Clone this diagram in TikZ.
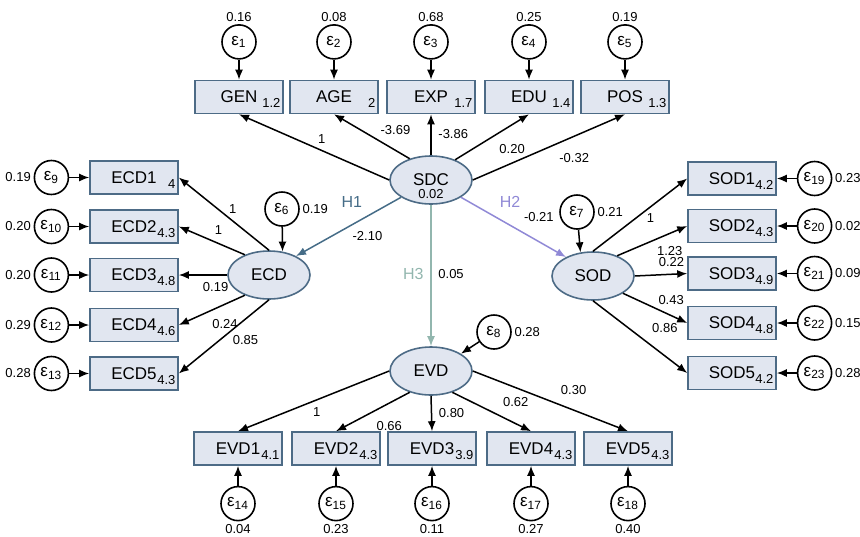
\documentclass[tikz,border=0pt]{standalone}
\usepackage{fontspec}
\setmainfont{Liberation Sans}
\usetikzlibrary{arrows.meta, positioning, shapes}

\definecolor{boxfill}{RGB}{225,230,240}
\definecolor{boxline}{RGB}{77,107,134}
\definecolor{hone}{RGB}{69,108,135}
\definecolor{htwo}{RGB}{144,137,214}
\definecolor{hthree}{RGB}{146,182,174}

\begin{document}
\begin{tikzpicture}[x=0.5pt, y=-0.5pt, node distance=10pt, >={Latex[length=5pt,width=4pt]},
    indicator/.style={draw=boxline, line width=0.8pt, fill=boxfill, rectangle, minimum width=44pt, minimum height=16.5pt, inner sep=0pt, font=\fontsize{8.5}{10}\selectfont},
    factor/.style={draw=boxline, line width=0.8pt, fill=boxfill, ellipse, minimum width=41pt, minimum height=24pt, inner sep=0pt, font=\fontsize{8.5}{10}\selectfont},
    errterm/.style={draw, circle, line width=0.8pt, minimum size=17pt, inner sep=0pt, font=\fontsize{8.5}{10}\selectfont},
    icept/.style={anchor=south east, inner xsep=1.5pt, inner ysep=3pt},
    coef/.style={font=\fontsize{6.5}{7}\selectfont, text=black},
    hyp/.style={font=\fontsize{8}{9}\selectfont},
    every label/.style={coef, inner sep=1.2pt},
    loading/.style={->, line width=0.75pt}]
        \useasboundingbox (0,0) rectangle (860,536);

        % Latent variables
        \node (sdc) [factor, label={[anchor=south, inner sep=3pt]south:0.02}] at (431,180) {SDC};
        \node (ecd) [factor] at (269,275) {ECD};
        \node (sod) [factor] at (593,276) {SOD};
        \node (evd) [factor] at (431,371) {EVD};

        % Observed variables of SDC
        \node (gen) [indicator, label={[icept]south east:1.2}] at (239,97) {GEN};
        \node (age) [indicator, label={[icept]south east:2}] at (334,97) {AGE};
        \node (exp) [indicator, label={[icept]south east:1.7}] at (431,97) {EXP};
        \node (edu) [indicator, label={[icept]south east:1.4}] at (529,97) {EDU};
        \node (pos) [indicator, label={[icept]south east:1.3}] at (625,97) {POS};

        % Observed variables of ECD
        \node (ecd1) [indicator, label={[icept]south east:4}] at (134,177.5) {ECD1};
        \node (ecd2) [indicator, label={[icept]south east:4.3}] at (134,226.5) {ECD2};
        \node (ecd3) [indicator, label={[icept]south east:4.8}] at (134,275) {ECD3};
        \node (ecd4) [indicator, label={[icept]south east:4.6}] at (134,325) {ECD4};
        \node (ecd5) [indicator, label={[icept]south east:4.3}] at (134,373.5) {ECD5};

        % Observed variables of SOD
        \node (sod1) [indicator, label={[icept]south east:4.2}] at (732,178.5) {SOD1};
        \node (sod2) [indicator, label={[icept]south east:4.3}] at (732,226) {SOD2};
        \node (sod3) [indicator, label={[icept]south east:4.9}] at (732,273.5) {SOD3};
        \node (sod4) [indicator, label={[icept]south east:4.8}] at (732,323) {SOD4};
        \node (sod5) [indicator, label={[icept]south east:4.2}] at (732,373) {SOD5};

        % Observed variables of EVD
        \node (evd1) [indicator, label={[icept]south east:4.1}] at (238,448.5) {EVD1};
        \node (evd2) [indicator, label={[icept]south east:4.3}] at (336,448.5) {EVD2};
        \node (evd3) [indicator, label={[icept]south east:3.9}] at (432,448.5) {EVD3};
        \node (evd4) [indicator, label={[icept]south east:4.3}] at (531,448.5) {EVD4};
        \node (evd5) [indicator, label={[icept]south east:4.3}] at (628,448.5) {EVD5};

        % Error terms
        \node (e1) [errterm, label=above:0.16, above=of gen] {ε\textsubscript{1}};
        \node (e2) [errterm, label=above:0.08, above=of age] {ε\textsubscript{2}};
        \node (e3) [errterm, label=above:0.68, above=of exp] {ε\textsubscript{3}};
        \node (e4) [errterm, label=above:0.25, above=of edu] {ε\textsubscript{4}};
        \node (e5) [errterm, label=above:0.19, above=of pos] {ε\textsubscript{5}};
        \node (e6) [errterm, label=right:0.19] at (282,209) {ε\textsubscript{6}};
        \node (e7) [errterm, label=right:0.21] at (577,212) {ε\textsubscript{7}};
        \node (e8) [errterm, label=right:0.28] at (494,332) {ε\textsubscript{8}};
        \node (e9) [errterm, label=left:0.19, left=of ecd1] {ε\textsubscript{9}};
        \node (e10) [errterm, label=left:0.20, left=of ecd2] {ε\textsubscript{10}};
        \node (e11) [errterm, label=left:0.20, left=of ecd3] {ε\textsubscript{11}};
        \node (e12) [errterm, label=left:0.29, left=of ecd4] {ε\textsubscript{12}};
        \node (e13) [errterm, label=left:0.28, left=of ecd5] {ε\textsubscript{13}};
        \node (e14) [errterm, label=below:0.04, below=of evd1] {ε\textsubscript{14}};
        \node (e15) [errterm, label=below:0.23, below=of evd2] {ε\textsubscript{15}};
        \node (e16) [errterm, label=below:0.11, below=of evd3] {ε\textsubscript{16}};
        \node (e17) [errterm, label=below:0.27, below=of evd4] {ε\textsubscript{17}};
        \node (e18) [errterm, label=below:0.40, below=of evd5] {ε\textsubscript{18}};
        \node (e19) [errterm, label=right:0.23, right=of sod1] {ε\textsubscript{19}};
        \node (e20) [errterm, label=right:0.02, right=of sod2] {ε\textsubscript{20}};
        \node (e21) [errterm, label=right:0.09, right=of sod3] {ε\textsubscript{21}};
        \node (e22) [errterm, label=right:0.15, right=of sod4] {ε\textsubscript{22}};
        \node (e23) [errterm, label=right:0.28, right=of sod5] {ε\textsubscript{23}};

        % Loadings of SDC
        \draw[loading] (sdc.west) -- (gen.south) node[coef, pos=.45, above] {1};
        \draw[loading] (sdc.135) -- (age.south) node[coef, pos=.64, right=6pt] {-3.69};
        \draw[loading] (sdc.north) -- (exp.south) node[coef, pos=.52, right] {-3.86};
        \draw[loading] (sdc.40) -- (edu.south) node[coef, pos=.5, below right] {0.20};
        \draw[loading] (sdc.east) -- (pos.south) node[coef, pos=.52, below right] {-0.32};

        % Hypotheses
        \draw[loading, hone] (sdc.-150) -- (ecd.35) node[hyp, pos=.3, above left] {H1} node[coef, pos=.32, below=4pt] {-2.10};
        \draw[loading, htwo] (sdc.-30) -- (sod.145) node[hyp, pos=.3, above right] {H2} node[coef, pos=.53, above right] {-0.21};
        \draw[loading, hthree] (sdc.south) -- (evd.north) node[hyp, pos=.49, left] {H3} node[coef, pos=.49, right] {0.05};

        % Loadings of ECD
        \draw[loading] (ecd.north) -- (ecd1.east) node[coef, pos=.57, right=2pt] {1};
        \draw[loading] (ecd.140) -- (ecd2.east) node[coef, pos=.4, above=1pt] {1};
        \draw[loading] (ecd.west) -- (ecd3.east) node[coef, pos=.24, below] {0.19};
        \draw[loading] (ecd.-140) -- (ecd4.east) node[coef, pos=.3, below=4pt] {0.24};
        \draw[loading] (ecd.south) -- (ecd5.east) node[coef, pos=.55, right=3pt] {0.85};

        % Loadings of SOD
        \draw[loading] (sod.north) -- (sod1.west) node[coef, pos=.45, right=2pt] {1};
        \draw[loading] (sod.40) -- (sod2.west) node[coef, pos=.75, below=3pt] {1.23};
        \draw[loading] (sod.east) -- (sod3.west) node[coef, pos=.7, above] {0.22};
        \draw[loading] (sod.-30) -- (sod4.west) node[coef, pos=.75, above=2pt] {0.43};
        \draw[loading] (sod.south) -- (sod5.west) node[coef, pos=.55, above right] {0.86};

        % Loadings of EVD
        \draw[loading] (evd.west) -- (evd1.north) node[coef, pos=.48, below] {1};
        \draw[loading] (evd.-135) -- (evd2.north) node[coef, pos=.55, below right] {0.66};
        \draw[loading] (evd.south) -- (evd3.north) node[coef, pos=.5, right] {0.80};
        \draw[loading] (evd.-45) -- (evd4.north) node[coef, pos=.55, above right] {0.62};
        \draw[loading] (evd.east) -- (evd5.north) node[coef, pos=.52, above right] {0.30};

        % Error paths
        \draw[loading] (e1) -- (gen);
        \draw[loading] (e2) -- (age);
        \draw[loading] (e3) -- (exp);
        \draw[loading] (e4) -- (edu);
        \draw[loading] (e5) -- (pos);
        \draw[loading] (e6) -- (ecd.60);
        \draw[loading] (e7) -- (sod.118);
        \draw[loading] (e8) -- (evd.30);
        \draw[loading] (e9) -- (ecd1);
        \draw[loading] (e10) -- (ecd2);
        \draw[loading] (e11) -- (ecd3);
        \draw[loading] (e12) -- (ecd4);
        \draw[loading] (e13) -- (ecd5);
        \draw[loading] (e14) -- (evd1);
        \draw[loading] (e15) -- (evd2);
        \draw[loading] (e16) -- (evd3);
        \draw[loading] (e17) -- (evd4);
        \draw[loading] (e18) -- (evd5);
        \draw[loading] (e19) -- (sod1);
        \draw[loading] (e20) -- (sod2);
        \draw[loading] (e21) -- (sod3);
        \draw[loading] (e22) -- (sod4);
        \draw[loading] (e23) -- (sod5);
    \end{tikzpicture}
\end{document}
